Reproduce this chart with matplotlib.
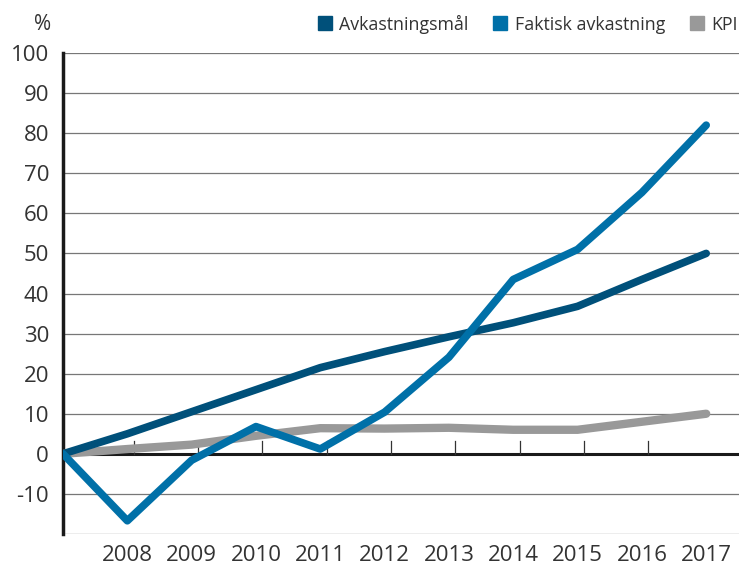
import matplotlib
matplotlib.use("Agg")
import matplotlib.pyplot as plt
from matplotlib.lines import Line2D

years = [2007, 2008, 2009, 2010, 2011, 2012, 2013, 2014, 2015, 2016, 2017]
avkastningsmal = [0, 5, 10.5, 16, 21.5, 25.5, 29.2, 32.7, 36.8, 43.5, 50]
faktisk = [0, -16.7, -1.6, 6.8, 1.2, 10.4, 24.1, 43.5, 51, 65.2, 82]
kpi = [0, 1.2, 2.3, 4.5, 6.4, 6.3, 6.5, 6.0, 6.0, 8.0, 10]
tick_years = [2008, 2009, 2010, 2011, 2012, 2013, 2014, 2015, 2016, 2017]
y_ticks = list(range(-10, 101, 10))

c_mal = "#00507a"
c_fak = "#0070a8"
c_kpi = "#999999"
txt = "#333333"

plt.rcParams["font.family"] = ["Open Sans", "DejaVu Sans"]

fig = plt.figure(figsize=(7.39, 5.70), dpi=100)
ax = fig.add_axes([63 / 739, 1 - 534 / 570, 676 / 739, (534 - 53) / 570])

# gridlines
for v in [-20, -10] + list(range(10, 101, 10)):
    ax.axhline(v, color="#777777", lw=0.9, zorder=1)
ax.axhline(0, color="#1a1a1a", lw=2.2, zorder=2)

# small ticks on zero line
for yr in years[1:-1]:
    ax.plot([yr + 0.1, yr + 0.1], [0, 3.3], color="#333333", lw=0.9, zorder=2)

ax.plot(years, kpi, color=c_kpi, lw=6, solid_capstyle="round", solid_joinstyle="round", zorder=3)
ax.plot(years, avkastningsmal, color=c_mal, lw=5.5, solid_capstyle="round", solid_joinstyle="round", zorder=4)
ax.plot(years, faktisk, color=c_fak, lw=5.5, solid_capstyle="round", solid_joinstyle="round", zorder=5)

ax.set_xlim(2007, 2017.51)
ax.set_ylim(-20, 100)

for s in ["top", "right", "bottom"]:
    ax.spines[s].set_visible(False)
ax.spines["left"].set_linewidth(2.5)
ax.spines["left"].set_color("#1a1a1a")

ax.set_yticks(y_ticks)
ax.set_yticklabels([str(v) for v in y_ticks])
ax.set_xticks(tick_years)
ax.set_xticklabels([str(y) for y in tick_years])
ax.tick_params(axis="both", length=0, labelsize=16, colors=txt)
ax.tick_params(axis="y", pad=10)
ax.tick_params(axis="x", pad=8)

fig.text(43 / 739, 1 - 24 / 570, "%", fontsize=15, color=txt, ha="center", va="center")

handles = [
    Line2D([], [], marker="s", color="none", markerfacecolor=c, markeredgecolor=c, markersize=10)
    for c in (c_mal, c_fak, c_kpi)
]
fig.legend(handles, ["Avkastningsmål", "Faktisk avkastning", "KPI"], loc="center right",
           bbox_to_anchor=(1.02, 1 - 24 / 570), ncol=3, frameon=False, fontsize=12.8,
           handlelength=0.8, handletextpad=0.4, columnspacing=1.4, labelcolor=txt)

fig.savefig("out.png", dpi=100)
